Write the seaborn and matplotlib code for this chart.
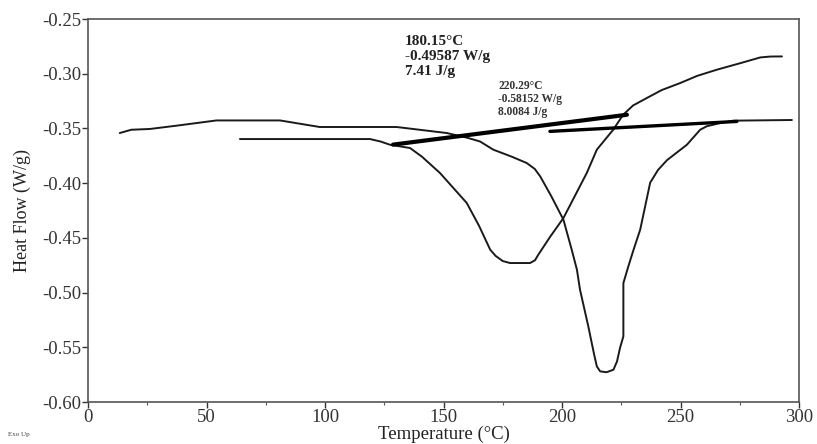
import matplotlib
matplotlib.use("Agg")
import matplotlib.pyplot as plt
import seaborn as sns
import pandas as pd

# Curve 1 (thin, sharp endotherm near 220 °C)
temp_a = [13.4, 18.3, 26.1, 37.3, 54.2, 81.0, 97.8, 130.2, 151.4, 160.0, 165.4, 171.0,
          179.0, 185.1, 188.5, 190.8, 195.5, 200.6, 204.1, 206.3, 207.6, 211.1, 213.5,
          214.7, 216.1, 218.8, 221.7, 223.2, 224.5, 225.9, 225.9, 228.0, 230.2, 233.0,
          237.2, 240.5, 244.3, 252.7, 258.3, 261.1, 266.0, 272.3, 297.0]
flow_a = [-0.3542, -0.3512, -0.3505, -0.3475, -0.3427, -0.3427, -0.3487, -0.3487,
          -0.3542, -0.3585, -0.3619, -0.3694, -0.3760, -0.3816, -0.3870, -0.3938,
          -0.4120, -0.4334, -0.4608, -0.4791, -0.4974, -0.5309, -0.5560, -0.5675,
          -0.5720, -0.5728, -0.5705, -0.5630, -0.5504, -0.5400, -0.4913, -0.4760,
          -0.4608, -0.4425, -0.3996, -0.3880, -0.3790, -0.3649, -0.3512, -0.3480,
          -0.3455, -0.3429, -0.3423]

# Curve 2 (broad endotherm near 180 °C)
temp_b = [64.1, 119.0, 123.5, 127.4, 135.9, 141.0, 148.5, 159.8, 165.0, 169.7, 172.0,
          175.0, 178.1, 186.5, 188.6, 190.0, 195.0, 200.6, 210.5, 214.7, 221.6, 225.8,
          230.0, 235.8, 242.0, 249.9, 257.0, 265.4, 275.0, 283.7, 288.0, 292.8]
flow_b = [-0.3597, -0.3597, -0.3620, -0.3649, -0.3679, -0.3760, -0.3907, -0.4181,
          -0.4390, -0.4608, -0.4665, -0.4712, -0.4730, -0.4730, -0.4705, -0.4654,
          -0.4490, -0.4319, -0.3905, -0.3694, -0.3512, -0.3375, -0.3290, -0.3222,
          -0.3150, -0.3085, -0.3020, -0.2963, -0.2905, -0.2851, -0.2843, -0.2842]

# Integration baselines
base1_t = [128.7, 227.4]
base1_f = [-0.3648, -0.3375]
base2_t = [194.9, 273.8]
base2_f = [-0.3527, -0.3436]

ann1 = ["180.15°C", "-0.49587 W/g", "7.41 J/g"]
ann2 = ["220.29°C", "-0.58152 W/g", "8.0084 J/g"]

x_ticks = [0, 50, 100, 150, 200, 250, 300]
y_ticks = [-0.60, -0.55, -0.50, -0.45, -0.40, -0.35, -0.30, -0.25]

sns.set_style("ticks")
plt.rcParams["font.family"] = ["Liberation Serif", "DejaVu Serif"]

fig = plt.figure(figsize=(8.17, 4.44), dpi=100)
ax = fig.add_axes([88 / 817, 1 - 402 / 444, (799 - 88) / 817, (402 - 19) / 444])

ink = "#1a1a1a"
sns.lineplot(data=pd.DataFrame({"T": temp_a, "H": flow_a}), x="T", y="H", sort=False,
             ax=ax, color=ink, lw=1.4, estimator=None)
sns.lineplot(data=pd.DataFrame({"T": temp_b, "H": flow_b}), x="T", y="H", sort=False,
             ax=ax, color=ink, lw=1.4, estimator=None)
sns.lineplot(x=base1_t, y=base1_f, sort=False, ax=ax, color="black", lw=3.0, estimator=None)
sns.lineplot(x=base2_t, y=base2_f, sort=False, ax=ax, color="black", lw=2.4, estimator=None)

ax.set_xlim(0, 300)
ax.set_ylim(-0.60, -0.25)
ax.set_xticks(x_ticks)
ax.set_xticks([25, 75, 125, 175, 225, 275], minor=True)
ax.set_yticks(y_ticks)
ax.set_yticklabels([f"{v:.2f}" for v in y_ticks])
ax.tick_params(axis="both", which="major", direction="out", length=4, width=1,
               labelsize=13.5, colors="#333333", pad=1)
ax.tick_params(axis="x", which="minor", direction="out", length=2.5, width=0.8, colors="#555555")
for s in ax.spines.values():
    s.set_visible(True)
    s.set_color("#555555")
    s.set_linewidth(1.2)

ax.set_xlabel("Temperature (°C)", fontsize=13.5, color="#222222")
ax.xaxis.set_label_coords(0.5, -0.062)
ax.xaxis.label.set_va("top")
ax.set_ylabel("Heat Flow (W/g)", fontsize=13, color="#222222", labelpad=8)

ax.text(133.7, -0.2643, "\n".join(ann1), fontsize=11, fontweight="bold", color="#222222",
        va="top", ha="left", linespacing=1.2)
ax.text(173.0, -0.3055, "\n".join(ann2), fontsize=8.3, fontweight="bold", color="#333333",
        va="top", ha="left", linespacing=1.1)

fig.text(8 / 817, 1 - 434 / 444, "Exo Up", fontsize=5, color="#444444", va="center", ha="left")

fig.savefig("out.png", dpi=100, facecolor="white")
